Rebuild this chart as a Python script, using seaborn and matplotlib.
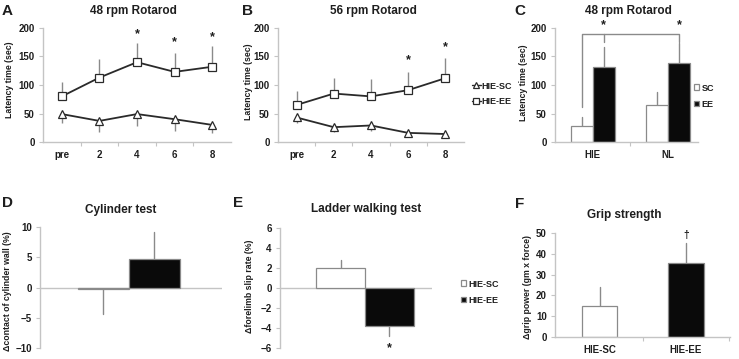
import numpy as np
import pandas as pd
import matplotlib
matplotlib.use('Agg')
import matplotlib.pyplot as plt
import seaborn as sns
from matplotlib.ticker import FixedLocator

W, H = 739, 359

days = ['pre', '2', '4', '6', '8']
groups = ['HIE-SC', 'HIE-EE']

# A: 48 rpm rotarod, latency (sec) per week
a_sc = [49, 37, 49, 40, 30]
a_sc_err = [15, 20, 21, 20, 15]
a_ee = [80, 113, 140, 123, 132]
a_ee_err = [25, 33, 34, 33, 36]
a_star_pos = [2, 3, 4]
a_star_y = [190, 175, 184]

# B: 56 rpm rotarod
b_sc = [43, 26, 29, 16, 14]
b_sc_err = [10, 9, 9, 4, 3]
b_ee = [65, 85, 80, 91, 112]
b_ee_err = [25, 28, 30, 32, 36]
b_star_pos = [3, 4]
b_star_y = [143, 166]

# C: 48 rpm rotarod, HIE vs NL
c_groups = ['HIE', 'NL']
c_conds = ['SC', 'EE']
c_sc = [28, 65]
c_sc_err = [16, 23]
c_ee = [132, 139]
c_ee_err = [35, 35]
c_bracket = [61, 189, 175]   # left leg bottom, bracket top, tick bottom
c_star_y = 205

# D: cylinder test
d_vals = [-0.2, 4.7]
d_err = [4.1, 4.5]

# E: ladder walking test
e_vals = [2.05, -3.75]
e_err = [0.8, 1.05]
e_star_y = -6.0

# F: grip strength
f_vals = [15, 35.5]
f_err = [9, 9.5]
f_dagger_y = 49

AX_GRAY = '#c4c4c4'
ERR_GRAY = '#8a8a8a'
INK = '#1e1e1e'
bar_pal = {'HIE-SC': 'white', 'HIE-EE': '#0a0a0a', 'SC': 'white', 'EE': '#0a0a0a'}

sns.set_theme(style='white')
plt.rcParams['font.family'] = ['Liberation Sans', 'DejaVu Sans']
plt.rcParams['font.weight'] = 'bold'
plt.rcParams['text.color'] = INK

fig = plt.figure(figsize=(W / 100, H / 100), dpi=100)


def px_axes(x0, x1, y0, y1):
    return fig.add_axes([x0 / W, 1 - y1 / H, (x1 - x0) / W, (y1 - y0) / H])


def fig_text(x, y, s, **kw):
    fig.text(x / W, 1 - y / H, s, **kw)


def style_axes(ax, bottom=True, minor=None):
    sns.despine(ax=ax, top=True, right=True, bottom=not bottom)
    for s in ['left', 'bottom']:
        ax.spines[s].set_color(AX_GRAY)
        ax.spines[s].set_linewidth(1)
    ax.tick_params(axis='y', which='major', left=True, direction='out', length=3,
                   width=0.8, color=AX_GRAY, labelsize=7, labelcolor=INK, pad=3)
    ax.tick_params(axis='x', which='major', length=0, labelsize=7,
                   labelcolor=INK, pad=6)
    if minor is not None:
        ax.xaxis.set_minor_locator(FixedLocator(minor))
        ax.tick_params(axis='x', which='minor', bottom=True, direction='out',
                       length=3, width=0.8, color=AX_GRAY)
    ax.set_xlabel('')
    ax.set_ylabel('')


def bar_errors(ax, errs):
    # error whisker drawn away from zero, no caps
    bars = [b for c in ax.containers for b in c]
    for b, e in zip(bars, errs):
        x = b.get_x() + b.get_width() / 2
        end = b.get_y() + b.get_height()
        ax.plot([x, x], [end, end + np.sign(end) * e], color=ERR_GRAY, lw=1,
                zorder=1, clip_on=False)


def line_panel(ax, sc, sc_err, ee, ee_err, legend):
    x = np.arange(len(days))
    zeros = np.zeros(len(days))
    ax.errorbar(x, ee, yerr=[zeros, ee_err], fmt='none', ecolor=ERR_GRAY,
                elinewidth=1, capsize=0, zorder=1)
    ax.errorbar(x, sc, yerr=[sc_err, zeros], fmt='none', ecolor=ERR_GRAY,
                elinewidth=1, capsize=0, zorder=1)
    df = pd.DataFrame({'day': list(x) * 2, 'latency': sc + ee,
                       'group': ['HIE-SC'] * len(days) + ['HIE-EE'] * len(days)})
    sns.lineplot(data=df, x='day', y='latency', style='group', style_order=groups,
                 markers={'HIE-SC': '^', 'HIE-EE': 's'}, dashes=False,
                 color='#2a2a2a', lw=1.3, markersize=5.7, markerfacecolor='white',
                 markeredgecolor='#2a2a2a', markeredgewidth=0.9, errorbar=None,
                 legend=legend, ax=ax, zorder=3)
    ax.set_xlim(-0.5, 4.5)
    ax.set_ylim(0, 200)
    ax.set_xticks(x, days)
    ax.set_yticks([0, 50, 100, 150, 200])
    style_axes(ax, minor=[0.5, 1.5, 2.5, 3.5])


# ---- A ----
ax_a = px_axes(43, 231, 28, 142)
line_panel(ax_a, a_sc, a_sc_err, a_ee, a_ee_err, legend=False)
for p, y in zip(a_star_pos, a_star_y):
    ax_a.text(p, y, '*', ha='center', va='center', fontsize=9, clip_on=False)

# ---- B ----
ax_b = px_axes(278, 464, 28, 142)
line_panel(ax_b, b_sc, b_sc_err, b_ee, b_ee_err, legend=True)
for p, y in zip(b_star_pos, b_star_y):
    ax_b.text(p, y, '*', ha='center', va='center', fontsize=9, clip_on=False)
sns.move_legend(ax_b, 'upper left', bbox_to_anchor=(467 / W, 1 - 77 / H),
                bbox_transform=fig.transFigure, frameon=False, title=None,
                fontsize=6.5, handlelength=1.0, handletextpad=0.1,
                labelspacing=0.75, borderpad=0)
for h in ax_b.get_legend().legend_handles:
    h.set_markersize(4)
    h.set_linewidth(1)

# ---- C ----
ax_c = px_axes(555, 698, 28, 142)
df_c = pd.DataFrame({'group': c_groups * 2, 'cond': ['SC'] * 2 + ['EE'] * 2,
                     'latency': c_sc + c_ee})
sns.barplot(data=df_c, x='group', y='latency', hue='cond', order=c_groups,
            hue_order=c_conds, palette=bar_pal, width=0.587, edgecolor=ERR_GRAY,
            linewidth=0.9, errorbar=None, ax=ax_c, zorder=2)
bar_errors(ax_c, c_sc_err + c_ee_err)
ax_c.set_xlim(-0.5, 1.4)
ax_c.set_ylim(0, 200)
ax_c.set_yticks([0, 50, 100, 150, 200])
style_axes(ax_c, minor=[0.5])
sc_hie = ax_c.containers[0][0]
ee_hie, ee_nl = ax_c.containers[1][0], ax_c.containers[1][1]
xl = sc_hie.get_x() + sc_hie.get_width() / 2
xm = ee_hie.get_x() + ee_hie.get_width() / 2
xr = ee_nl.get_x() + ee_nl.get_width() / 2
low, top, tick = c_bracket
ax_c.plot([xl, xl, xr, xr], [low, top, top, tick], color=ERR_GRAY, lw=1, clip_on=False)
ax_c.plot([xm, xm], [top, tick], color=ERR_GRAY, lw=1, clip_on=False)
for xs in [xm, xr]:
    ax_c.text(xs, c_star_y, '*', ha='center', va='center', fontsize=9, clip_on=False)
sns.move_legend(ax_c, 'upper left', bbox_to_anchor=(689 / W, 1 - 79 / H),
                bbox_transform=fig.transFigure, frameon=False, title=None,
                fontsize=6.5, handlelength=0.6, handleheight=0.6,
                handletextpad=0.3, labelspacing=0.8, borderpad=0)

# ---- D ----
ax_d = px_axes(40, 222, 227, 348)
df_d = pd.DataFrame({'group': groups, 'delta': d_vals})
ax_d.axhline(0, color=AX_GRAY, lw=1, zorder=0)
sns.barplot(data=df_d, x='group', y='delta', hue='group', order=groups,
            hue_order=groups, palette=bar_pal, width=1.0, edgecolor=ERR_GRAY,
            linewidth=0.9, errorbar=None, legend=False, ax=ax_d, zorder=2)
bar_errors(ax_d, d_err)
ax_d.set_xlim(-1.24, 2.33)
ax_d.set_ylim(-10, 10)
ax_d.set_yticks([-10, -5, 0, 5, 10])
ax_d.set_xticks([])
style_axes(ax_d, bottom=False)

# ---- E ----
ax_e = px_axes(280, 432, 228, 348)
df_e = pd.DataFrame({'group': groups, 'delta': e_vals})
ax_e.axhline(0, color=AX_GRAY, lw=1, zorder=0)
sns.barplot(data=df_e, x='group', y='delta', hue='group', order=groups,
            hue_order=groups, palette=bar_pal, width=1.0, edgecolor=ERR_GRAY,
            linewidth=0.9, errorbar=None, legend=True, ax=ax_e, zorder=2)
bar_errors(ax_e, e_err)
ax_e.text(1, e_star_y, '*', ha='center', va='center', fontsize=9, clip_on=False)
ax_e.set_xlim(-1.25, 1.88)
ax_e.set_ylim(-6, 6)
ax_e.set_yticks([-6, -4, -2, 0, 2, 4, 6])
ax_e.set_xticks([])
style_axes(ax_e, bottom=False)
sns.move_legend(ax_e, 'upper left', bbox_to_anchor=(456 / W, 1 - 275 / H),
                bbox_transform=fig.transFigure, frameon=False, title=None,
                fontsize=6.5, handlelength=0.6, handleheight=0.6,
                handletextpad=0.3, labelspacing=0.8, borderpad=0)

# ---- F ----
ax_f = px_axes(555, 730, 233, 337)
df_f = pd.DataFrame({'group': groups, 'grip': f_vals})
sns.barplot(data=df_f, x='group', y='grip', hue='group', order=groups,
            hue_order=groups, palette=bar_pal, width=0.41, edgecolor=ERR_GRAY,
            linewidth=0.9, errorbar=None, legend=False, ax=ax_f, zorder=2)
bar_errors(ax_f, f_err)
ax_f.text(1, f_dagger_y, '†', ha='center', va='center', fontsize=7.5, clip_on=False)
ax_f.set_xlim(-0.52, 1.51)
ax_f.set_ylim(0, 50)
ax_f.set_yticks([0, 10, 20, 30, 40, 50])
style_axes(ax_f, minor=[0.5, 1.5])

# ---- titles, panel letters, y labels ----
titles = [(133, 14, '48 rpm Rotarod'), (373, 14, '56 rpm Rotarod'),
          (628, 14, '48 rpm Rotarod'), (121, 213, 'Cylinder test'),
          (366, 212, 'Ladder walking test'), (624, 218, 'Grip strength')]
for x, y, s in titles:
    fig_text(x, y, s, ha='center', va='baseline', fontsize=8.5)

letters = [(2, 15, 'A'), (242, 15, 'B'), (514, 15, 'C'),
           (2, 207, 'D'), (233, 207, 'E'), (515, 208, 'F')]
for x, y, s in letters:
    fig_text(x, y, s, ha='left', va='baseline', fontsize=11)

ylabels = [(10, 80, 'Latency time (sec)'), (248, 82, 'Latency time (sec)'),
           (523, 83, 'Latency time (sec)'), (8, 291, 'Δcontact of cylinder wall (%)'),
           (250, 286, 'Δforelimb slip rate (%)'), (528, 287, 'Δgrip power (gm x force)')]
for x, y, s in ylabels:
    fig_text(x, y, s, ha='center', va='center', rotation=90, fontsize=6.3)

fig.savefig('out.png', dpi=100)
